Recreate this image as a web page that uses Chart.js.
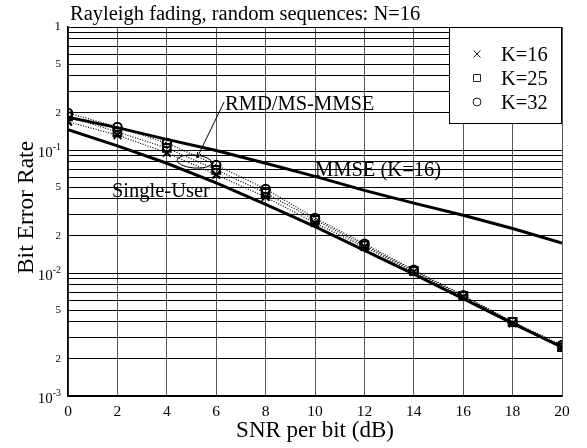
<!DOCTYPE html>
<html>
<head>
<meta charset="utf-8">
<script src="https://cdn.jsdelivr.net/npm/chart.js@4/dist/chart.umd.min.js"></script>
<style>
  html, body { margin: 0; padding: 0; background: #fff; }
  #wrap { width: 587px; height: 448px; }
</style>
</head>
<body>
<div id="wrap"><canvas id="c" width="587" height="448"></canvas></div>
<script>
// ---- data ----
const snr = [0, 2, 4, 6, 8, 10, 12, 14, 16, 18, 20];
const singleUser = [0.146, 0.108, 0.078, 0.054, 0.0362, 0.0238, 0.0153, 0.0098, 0.0062, 0.0039, 0.0025];
const mmseK16 = [0.185, 0.152, 0.122, 0.099, 0.078, 0.061, 0.047, 0.037, 0.0295, 0.023, 0.0175];
const rmdK16 = [0.170, 0.132, 0.095, 0.063, 0.0415, 0.0255, 0.0163, 0.0102, 0.0064, 0.0039, 0.0025];
const rmdK25 = [0.188, 0.140, 0.104, 0.069, 0.0447, 0.0270, 0.0168, 0.0104, 0.0065, 0.0040, 0.0025];
const rmdK32 = [0.200, 0.154, 0.114, 0.0755, 0.0482, 0.0280, 0.0173, 0.0106, 0.0066, 0.0040, 0.0026];

const xTicks = [0, 2, 4, 6, 8, 10, 12, 14, 16, 18, 20];
const yGridValues = [
  0.001, 0.002, 0.003, 0.004, 0.005, 0.006, 0.007, 0.008, 0.009,
  0.01, 0.02, 0.03, 0.04, 0.05, 0.06, 0.07, 0.08, 0.09,
  0.1, 0.2, 0.3, 0.4, 0.5, 0.6, 0.7, 0.8, 0.9, 1
];
const yTickValues = [1, 0.5, 0.2, 0.1, 0.05, 0.02, 0.01, 0.005, 0.002, 0.001];
const yTickLabels = ['1', '5', '2', '10^-1', '5', '2', '10^-2', '5', '2', '10^-3'];

const titleText = 'Rayleigh fading, random sequences: N=16';
const xTitle = 'SNR per bit (dB)';
const yTitle = 'Bit Error Rate';
const legendLabels = ['K=16', 'K=25', 'K=32'];
const legendStyles = ['cross', 'rect', 'circle'];

// annotations (data coordinates)
const annoTexts = [
  { text: 'RMD/MS-MMSE', x: 6.36, y: 0.211 },
  { text: 'MMSE (K=16)', x: 10.0, y: 0.0615 },
  { text: 'Single-User', x: 1.78, y: 0.0415 }
];
const ellipseCenter = { x: 5.12, y: 0.0806 };
const arrowFrom = { x: 6.32, y: 0.2455 };
const arrowTo = { x: 5.22, y: 0.0861 };

const FONT = '"Liberation Serif", "Times New Roman", serif';

function pts(arr) { return snr.map((x, i) => ({ x: x, y: arr[i] })); }

const overlay = {
  id: 'overlay',
  afterDraw(chart) {
    const ctx = chart.ctx;
    const a = chart.chartArea;
    const xs = chart.scales.x, ys = chart.scales.y;
    ctx.save();
    ctx.fillStyle = '#000';
    ctx.strokeStyle = '#000';

    // title
    ctx.font = '20.5px ' + FONT;
    ctx.textAlign = 'left';
    ctx.textBaseline = 'alphabetic';
    ctx.fillText(titleText, a.left + 2, a.top - 7);

    // x tick labels
    ctx.font = '15.5px ' + FONT;
    ctx.textAlign = 'center';
    ctx.textBaseline = 'middle';
    xTicks.forEach(v => ctx.fillText(String(v), xs.getPixelForValue(v), a.bottom + 15.5));

    // y tick labels
    ctx.textAlign = 'right';
    yTickValues.forEach((v, i) => {
      const lab = yTickLabels[i];
      const py = ys.getPixelForValue(v);
      if (lab.indexOf('^') >= 0) {
        const parts = lab.split('^');
        ctx.font = '10px ' + FONT;
        ctx.fillText(parts[1], a.left - 7, py - 2.5);
        const ew = ctx.measureText(parts[1]).width;
        ctx.font = '15px ' + FONT;
        ctx.fillText(parts[0], a.left - 7 - ew, py + 3.5);
      } else {
        ctx.font = (v === 1 ? '13px ' : '11px ') + FONT;
        ctx.fillText(lab, a.left - 7, py);
      }
    });

    // axis titles
    ctx.font = '23px ' + FONT;
    ctx.textAlign = 'center';
    ctx.textBaseline = 'alphabetic';
    ctx.fillText(xTitle, (a.left + a.right) / 2, a.bottom + 41);
    ctx.save();
    ctx.translate(33, (a.top + a.bottom) / 2 - 4);
    ctx.rotate(-Math.PI / 2);
    ctx.font = '23.5px ' + FONT;
    ctx.fillText(yTitle, 0, 0);
    ctx.restore();

    // annotation texts
    ctx.font = '20.5px ' + FONT;
    ctx.textAlign = 'left';
    annoTexts.forEach(t => ctx.fillText(t.text, xs.getPixelForValue(t.x), ys.getPixelForValue(t.y)));

    // ellipse
    ctx.lineWidth = 1;
    ctx.beginPath();
    ctx.ellipse(xs.getPixelForValue(ellipseCenter.x), ys.getPixelForValue(ellipseCenter.y), 17.5, 6.5, 0.08, 0, Math.PI * 2);
    ctx.stroke();

    // arrow
    const x0 = xs.getPixelForValue(arrowFrom.x), y0 = ys.getPixelForValue(arrowFrom.y);
    const x1 = xs.getPixelForValue(arrowTo.x), y1 = ys.getPixelForValue(arrowTo.y);
    ctx.beginPath(); ctx.moveTo(x0, y0); ctx.lineTo(x1, y1); ctx.stroke();
    const ang = Math.atan2(y1 - y0, x1 - x0);
    ctx.beginPath();
    ctx.moveTo(x1, y1);
    ctx.lineTo(x1 - 6 * Math.cos(ang - 0.35), y1 - 6 * Math.sin(ang - 0.35));
    ctx.moveTo(x1, y1);
    ctx.lineTo(x1 - 6 * Math.cos(ang + 0.35), y1 - 6 * Math.sin(ang + 0.35));
    ctx.stroke();

    // legend box
    const lx = a.right - 113, ly = a.top, lw = 113, lh = 96;
    ctx.fillStyle = '#fff';
    ctx.fillRect(lx, ly, lw, lh);
    ctx.strokeStyle = '#000';
    ctx.lineWidth = 1;
    ctx.strokeRect(lx + 0.5, ly + 0.5, lw - 1, lh);
    ctx.fillStyle = '#000';
    ctx.font = '20.5px ' + FONT;
    ctx.textAlign = 'left';
    ctx.textBaseline = 'alphabetic';
    ctx.strokeStyle = '#222';
    legendLabels.forEach((lab, i) => {
      const cy = ly + 27 + i * 24;
      const mx = lx + 28;
      ctx.beginPath();
      if (legendStyles[i] === 'cross') {
        ctx.moveTo(mx - 3.5, cy - 3.5); ctx.lineTo(mx + 3.5, cy + 3.5);
        ctx.moveTo(mx + 3.5, cy - 3.5); ctx.lineTo(mx - 3.5, cy + 3.5);
      } else if (legendStyles[i] === 'rect') {
        ctx.rect(mx - 3.5, cy - 3.5, 7, 7);
      } else {
        ctx.arc(mx, cy, 4, 0, Math.PI * 2);
      }
      ctx.stroke();
      ctx.fillText(lab, lx + 52, cy + 7);
    });

    ctx.restore();
  }
};

const dotted = { borderColor: '#000', borderWidth: 1.2, borderDash: [1, 1.6], pointBorderColor: '#000', pointBackgroundColor: 'rgba(0,0,0,0)', pointBorderWidth: 2, tension: 0, fill: false };

new Chart(document.getElementById('c'), {
  type: 'line',
  data: {
    datasets: [
      { label: 'Single-User', data: pts(singleUser), borderColor: '#000', borderWidth: 3, pointRadius: 0, tension: 0, fill: false },
      { label: 'MMSE (K=16)', data: pts(mmseK16), borderColor: '#000', borderWidth: 3, pointRadius: 0, tension: 0, fill: false },
      Object.assign({ label: 'K=16', data: pts(rmdK16), pointStyle: 'crossRot', pointRadius: 5.5 }, dotted),
      Object.assign({ label: 'K=25', data: pts(rmdK25), pointStyle: 'rect', pointRadius: 5.5 }, dotted),
      Object.assign({ label: 'K=32', data: pts(rmdK32), pointStyle: 'circle', pointRadius: 4.3 }, dotted)
    ]
  },
  options: {
    responsive: false,
    devicePixelRatio: 1,
    animation: false,
    events: [],
    layout: { padding: { left: 68, top: 27, right: 25, bottom: 52 } },
    plugins: { legend: { display: false }, tooltip: { enabled: false }, title: { display: false } },
    scales: {
      x: {
        type: 'linear', min: 0, max: 20,
        afterBuildTicks: s => { s.ticks = xTicks.map(v => ({ value: v })); },
        ticks: { display: false },
        grid: { color: '#555', lineWidth: 1, drawTicks: false },
        border: { display: true, color: '#000', width: 1.5 },
        afterFit: s => { s.height = 0; }
      },
      y: {
        type: 'logarithmic', min: 0.001, max: 1,
        afterBuildTicks: s => { s.ticks = yGridValues.map(v => ({ value: v })); },
        ticks: { display: false },
        grid: { color: '#000', lineWidth: 1, drawTicks: false },
        border: { display: true, color: '#000', width: 1.5 },
        afterFit: s => { s.width = 0; }
      }
    }
  },
  plugins: [overlay]
});
</script>
</body>
</html>
